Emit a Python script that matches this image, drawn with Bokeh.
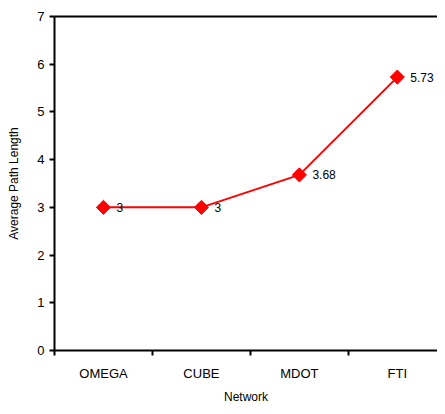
import numpy as np
from bokeh.plotting import figure
from bokeh.models import FixedTicker, LinearAxis, Range1d, ColumnDataSource
from bokeh.embed import file_html
from bokeh.resources import INLINE

networks = ["OMEGA", "CUBE", "MDOT", "FTI"]
path_length = [3.0, 3.0, 3.68, 5.73]
point_labels = ["3", "3", "3.68", "5.73"]
y_ticks = [0, 1, 2, 3, 4, 5, 6, 7]

xs = [i + 0.5 for i in range(len(networks))]
src = ColumnDataSource(dict(x=xs, y=path_length, lab=point_labels))

FONT = "Liberation Sans"

p = figure(width=437, height=406, output_backend="svg", toolbar_location=None,
           x_range=Range1d(0, 3.91), y_range=Range1d(0, 7),
           min_border_left=54, min_border_right=0, min_border_top=16, min_border_bottom=53)
p.outline_line_color = None
p.grid.visible = False
p.background_fill_color = "white"

xa = p.below[0]
ya = p.left[0]

top_axis = LinearAxis(ticker=FixedTicker(ticks=[]), major_tick_out=0, major_tick_in=0,
                      minor_tick_out=0, minor_tick_in=0, major_label_standoff=0,
                      major_label_text_font_size="0px",
                      axis_line_width=2, axis_line_color="black")
p.add_layout(top_axis, "above")

p.line("x", "y", source=src, line_color="#ff0000", line_width=2)
p.scatter("x", "y", source=src, marker="square", angle=np.pi / 4, size=10,
          fill_color="#ff0000", line_color="#ff0000")
p.text("x", "y", text="lab", source=src, x_offset=13, text_baseline="middle",
       text_align="left", text_font_size="12px", text_color="black",
       text_font={"value": FONT})

xa.ticker = FixedTicker(ticks=xs, minor_ticks=[0, 1, 2, 3, 4])
xa.major_label_overrides = {x: n for x, n in zip(xs, networks)}
xa.major_tick_out = 0
xa.major_tick_in = 0
xa.minor_tick_out = 5
xa.minor_tick_in = 0
xa.minor_tick_line_width = 2
xa.minor_tick_line_color = "black"
xa.axis_label = "Network"

ya.ticker = FixedTicker(ticks=y_ticks)
ya.minor_tick_line_color = None
ya.major_tick_out = 5
ya.major_tick_in = 0
ya.axis_label = "Average Path Length"
ya.axis_label_standoff = 13

for ax in (xa, ya):
    ax.axis_line_width = 2
    ax.axis_line_color = "black"
    ax.major_tick_line_width = 2
    ax.major_tick_line_color = "black"
    ax.major_label_text_font = FONT
    ax.major_label_text_font_size = "13px"
    ax.major_label_text_color = "black"
    ax.axis_label_text_font = FONT
    ax.axis_label_text_font_size = "12px"
    ax.axis_label_text_font_style = "normal"
    ax.axis_label_text_color = "black"

xa.major_label_standoff = 10
xa.axis_label_standoff = 6

open("out.html", "w").write(file_html(p, INLINE))
